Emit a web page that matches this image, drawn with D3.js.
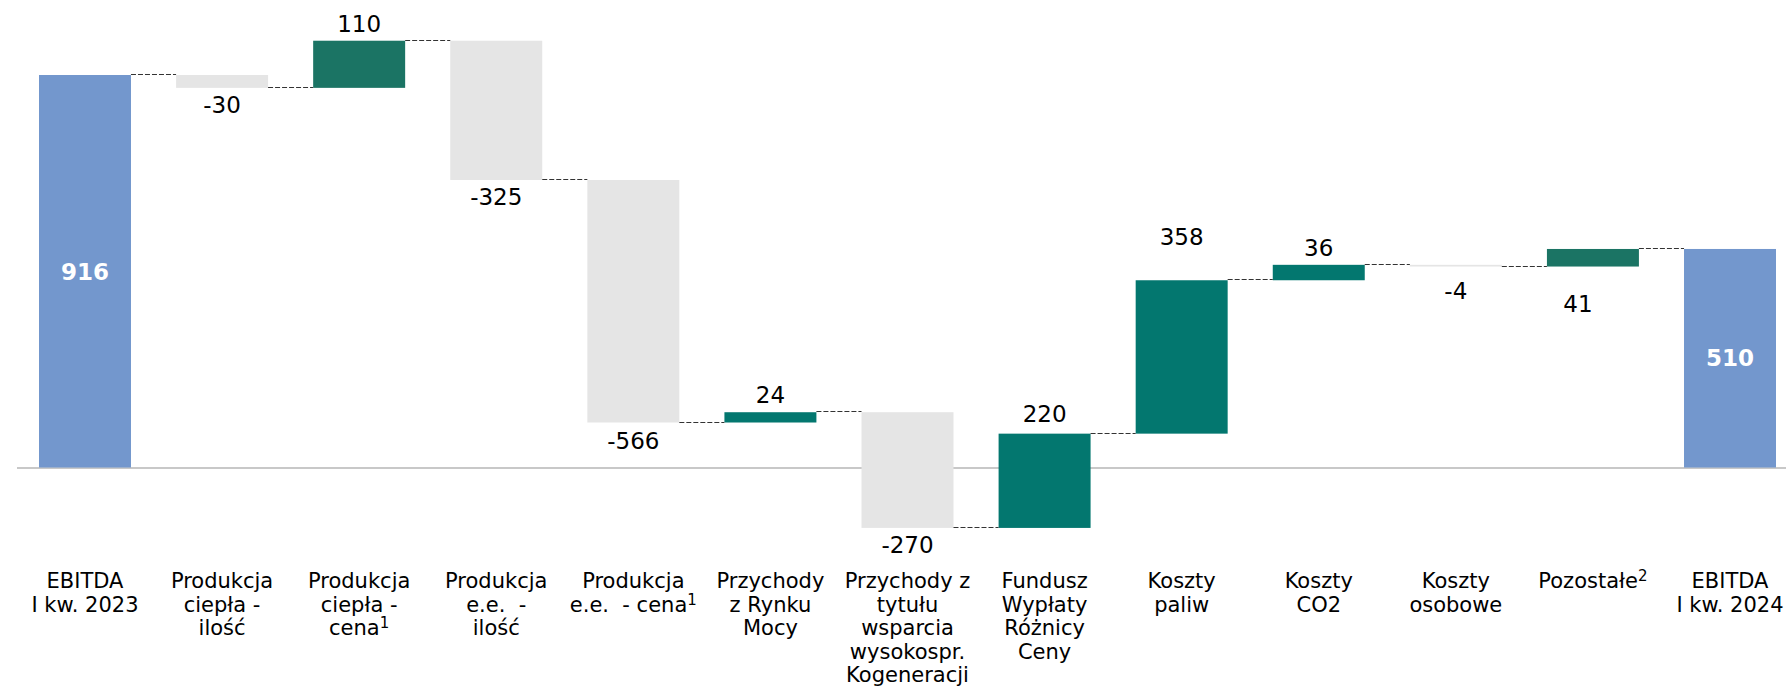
<!DOCTYPE html>
<html>
<head>
<meta charset="utf-8">
<script src="https://cdn.jsdelivr.net/npm/d3@7"></script>
<style>
  html, body { margin: 0; padding: 0; background: #ffffff; }
  svg { display: block; }
  text { font-family: "DejaVu Sans", Verdana, sans-serif; white-space: pre; }
</style>
</head>
<body>
<svg id="chart" width="1786" height="686"></svg>
<script>
// ---------------- DATA ----------------
const categories = [
  "EBITDA I kw. 2023",
  "Produkcja ciepła - ilość",
  "Produkcja ciepła - cena1",
  "Produkcja e.e. - ilość",
  "Produkcja e.e. - cena1",
  "Przychody z Rynku Mocy",
  "Przychody z tytułu wsparcia wysokospr. Kogeneracji",
  "Fundusz Wypłaty Różnicy Ceny",
  "Koszty paliw",
  "Koszty CO2",
  "Koszty osobowe",
  "Pozostałe2",
  "EBITDA I kw. 2024"
];
// category labels split in lines as in the original ("^" marks a superscript)
const categoryLines = [
  ["EBITDA", "I kw. 2023"],
  ["Produkcja", "ciepła -", "ilość"],
  ["Produkcja", "ciepła -", "cena^1"],
  ["Produkcja", "e.e.  -", "ilość"],
  ["Produkcja", "e.e.  - cena^1"],
  ["Przychody", "z Rynku", "Mocy"],
  ["Przychody z", "tytułu", "wsparcia", "wysokospr.", "Kogeneracji"],
  ["Fundusz", "Wypłaty", "Różnicy", "Ceny"],
  ["Koszty", "paliw"],
  ["Koszty", "CO2"],
  ["Koszty", "osobowe"],
  ["Pozostałe^2"],
  ["EBITDA", "I kw. 2024"]
];
const values = [916, -30, 110, -325, -566, 24, -270, 220, 358, 36, -4, 41, 510];
const barTypes = ["total", "delta", "delta", "delta", "delta", "delta", "delta",
                  "delta", "delta", "delta", "delta", "delta", "total"];

// ---------------- STYLE / LAYOUT ----------------
const barColors = ["#7397cd", "#e5e5e5", "#1b7464", "#e5e5e5", "#e5e5e5", "#03776f",
                   "#e5e5e5", "#03776f", "#03776f", "#03776f", "#e5e5e5", "#1b7464", "#7397cd"];
const labelSide = ["inside", "below", "above", "below", "below", "above", "below",
                   "above", "above", "above", "below", "below", "inside"];
const labelExtraY = [0, 0, 0, 0, 1, 0, 0, 3, 26, 0, 7, 20, 0];
const labelShiftX = [0, 0, 0, 0, 0, 0, 0, 0, 0, 0, 0, -15, 0];

const W = 1786, H = 686;
const svg = d3.select("#chart");

// compute waterfall segments
let running = 0;
const bars = values.map((v, i) => {
  let y0, y1;
  if (barTypes[i] === "total") { y0 = 0; y1 = v; running = v; }
  else { y0 = running; y1 = running + v; running = y1; }
  return { i, cat: categories[i], v, y0, y1, end: running };
});

const x = d3.scaleBand()
  .domain(categories)
  .range([39, 1776])
  .paddingInner(0.329)
  .paddingOuter(0);

const y = d3.scaleLinear()
  .domain([0, 916])
  .range([467.5, 75]);

// zero axis line
svg.append("line")
  .attr("x1", 17).attr("x2", W)
  .attr("y1", y(0) + 0.5).attr("y2", y(0) + 0.5)
  .attr("stroke", "#c8c8c8")
  .attr("stroke-width", 2.2);

// bars
svg.append("g").selectAll("rect")
  .data(bars)
  .join("rect")
  .attr("x", d => x(d.cat))
  .attr("width", x.bandwidth())
  .attr("y", d => y(Math.max(d.y0, d.y1)))
  .attr("height", d => Math.max(1, Math.abs(y(d.y0) - y(d.y1))))
  .attr("fill", d => barColors[d.i]);

// connectors
const conns = bars.slice(0, -1).map((d, k) => ({
  x1: x(d.cat) + x.bandwidth(),
  x2: x(categories[k + 1]),
  level: d.end
}));
svg.append("g").selectAll("line")
  .data(conns)
  .join("line")
  .attr("x1", d => d.x1)
  .attr("x2", d => d.x2)
  .attr("y1", d => Math.round(y(d.level)) - 0.5)
  .attr("y2", d => Math.round(y(d.level)) - 0.5)
  .attr("stroke", "#333333")
  .attr("stroke-width", 1)
  .attr("stroke-dasharray", "5,2");

// value labels (plain hyphen-minus as in the original)
const capH = 16.5;
svg.append("g").selectAll("text")
  .data(bars)
  .join("text")
  .attr("text-anchor", "middle")
  .attr("x", d => x(d.cat) + x.bandwidth() / 2 + labelShiftX[d.i])
  .attr("y", d => {
    const top = y(Math.max(d.y0, d.y1));
    const bot = y(Math.min(d.y0, d.y1));
    const side = labelSide[d.i];
    if (side === "inside") return (top + bot) / 2 + capH / 2;
    if (side === "above") return top - 9 - labelExtraY[d.i];
    return bot + 8.5 + capH + labelExtraY[d.i];
  })
  .attr("font-size", d => labelSide[d.i] === "inside" ? "23px" : "23px")
  .attr("font-weight", d => labelSide[d.i] === "inside" ? "bold" : "normal")
  .attr("fill", d => labelSide[d.i] === "inside" ? "#ffffff" : "#000000")
  .text(d => String(d.v));

// category labels
const firstBaseline = 588, lineH = 23.5;
const catG = svg.append("g");
categoryLines.forEach((lines, i) => {
  const cx = x(categories[i]) + x.bandwidth() / 2;
  const t = catG.append("text")
    .attr("text-anchor", "middle")
    .attr("font-size", "21px")
    .attr("fill", "#000000");
  lines.forEach((ln, j) => {
    const parts = ln.split("^");
    t.append("tspan")
      .attr("x", cx)
      .attr("y", firstBaseline + j * lineH)
      .text(parts[0]);
    if (parts.length > 1) {
      t.append("tspan")
        .attr("font-size", "15px")
        .attr("dy", -7)
        .text(parts[1]);
    }
  });
});
</script>
</body>
</html>
